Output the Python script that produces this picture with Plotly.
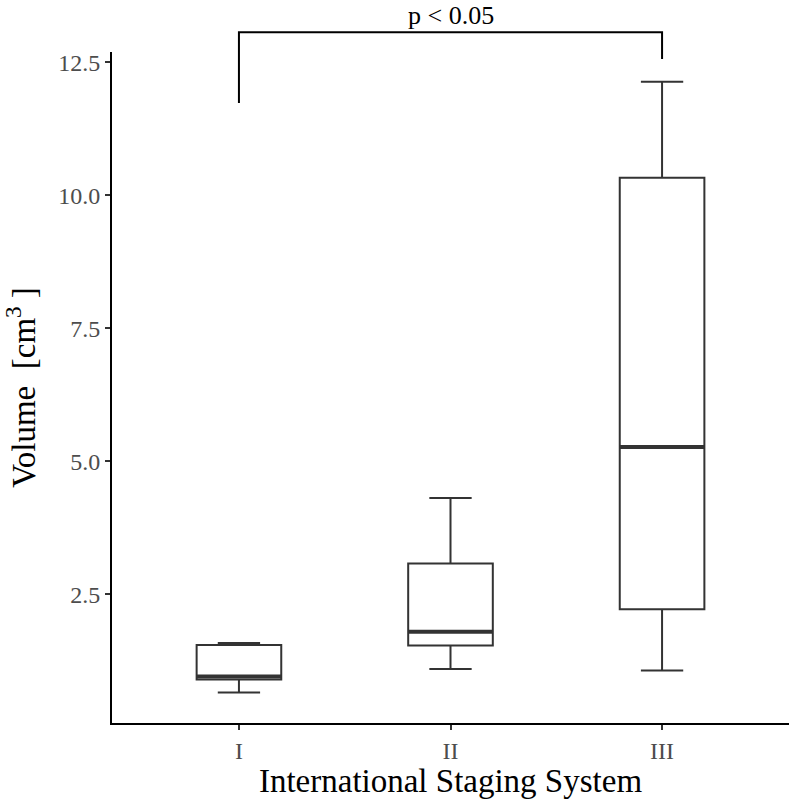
import plotly.graph_objects as go

categories = ["I", "II", "III"]
lower_whisker = [0.66, 1.10, 1.07]
q1 = [0.90, 1.54, 2.22]
median = [0.96, 1.80, 5.27]
q3 = [1.55, 3.08, 10.33]
upper_whisker = [1.59, 4.31, 12.13]
y_ticks = [2.5, 5.0, 7.5, 10.0, 12.5]
y_tick_labels = ["2.5", "5.0", "7.5", "10.0", "12.5"]

# significance bracket (data values)
sig_left = "I"
sig_right = "III"
sig_top = 13.06
sig_left_tip = 11.73
sig_right_tip = 12.56
sig_label = "p < 0.05"

FONT = "Liberation Serif"
BOX_COLOR = "#333333"
pos = list(range(len(categories)))
box_w = 0.4
x_range = [-0.6, len(categories) - 0.4]
y_range = [0.085, 12.69]

fig = go.Figure()
fig.add_trace(go.Box(
    x=pos, q1=q1, median=median, q3=q3,
    lowerfence=lower_whisker, upperfence=upper_whisker,
    width=box_w, whiskerwidth=0.5,
    fillcolor="white", line=dict(color=BOX_COLOR, width=2),
    boxpoints=False, showlegend=False, hoverinfo="skip",
))

mx, my = [], []
for p, m in zip(pos, median):
    mx += [p - box_w / 2, p + box_w / 2, None]
    my += [m, m, None]
fig.add_trace(go.Scatter(x=mx, y=my, mode="lines",
                         line=dict(color=BOX_COLOR, width=4),
                         showlegend=False, hoverinfo="skip"))


def px(xv):
    return (xv - x_range[0]) / (x_range[1] - x_range[0])


def py(yv):
    return (yv - y_range[0]) / (y_range[1] - y_range[0])


xl = px(categories.index(sig_left))
xr = px(categories.index(sig_right))
fig.add_shape(type="path", xref="paper", yref="paper",
              path=f"M {xl},{py(sig_left_tip)} L {xl},{py(sig_top)} L {xr},{py(sig_top)} L {xr},{py(sig_right_tip)}",
              line=dict(color="black", width=2))
fig.add_annotation(x=(xl + xr) / 2, xref="paper", y=py(sig_top), yref="paper",
                   text=sig_label, showarrow=False, yanchor="bottom", yshift=0,
                   font=dict(family=FONT, size=26, color="black"))

fig.update_layout(
    width=793, height=799,
    margin=dict(l=112, r=4, t=52, b=76),
    plot_bgcolor="white", paper_bgcolor="white",
    font=dict(family=FONT),
    xaxis=dict(range=x_range, tickvals=pos, ticktext=categories,
               showgrid=False, zeroline=False,
               showline=True, linecolor="black", linewidth=2,
               ticks="outside", ticklen=5, tickwidth=1.5, tickcolor="#333333",
               tickfont=dict(family=FONT, size=24, color="#4D4D4D"),
               title=dict(text="International Staging System",
                          font=dict(family=FONT, size=33, color="black"), standoff=6)),
    yaxis=dict(range=y_range, tickvals=y_ticks, ticktext=y_tick_labels,
               showgrid=False, zeroline=False,
               showline=True, linecolor="black", linewidth=2,
               ticks="outside", ticklen=5, tickwidth=1.5, tickcolor="#333333",
               tickfont=dict(family=FONT, size=24, color="#4D4D4D"),
               title=dict(text="Volume  [cm<sup>3</sup> ]",
                          font=dict(family=FONT, size=33, color="black"), standoff=14)),
)
fig.write_html("out.html")
